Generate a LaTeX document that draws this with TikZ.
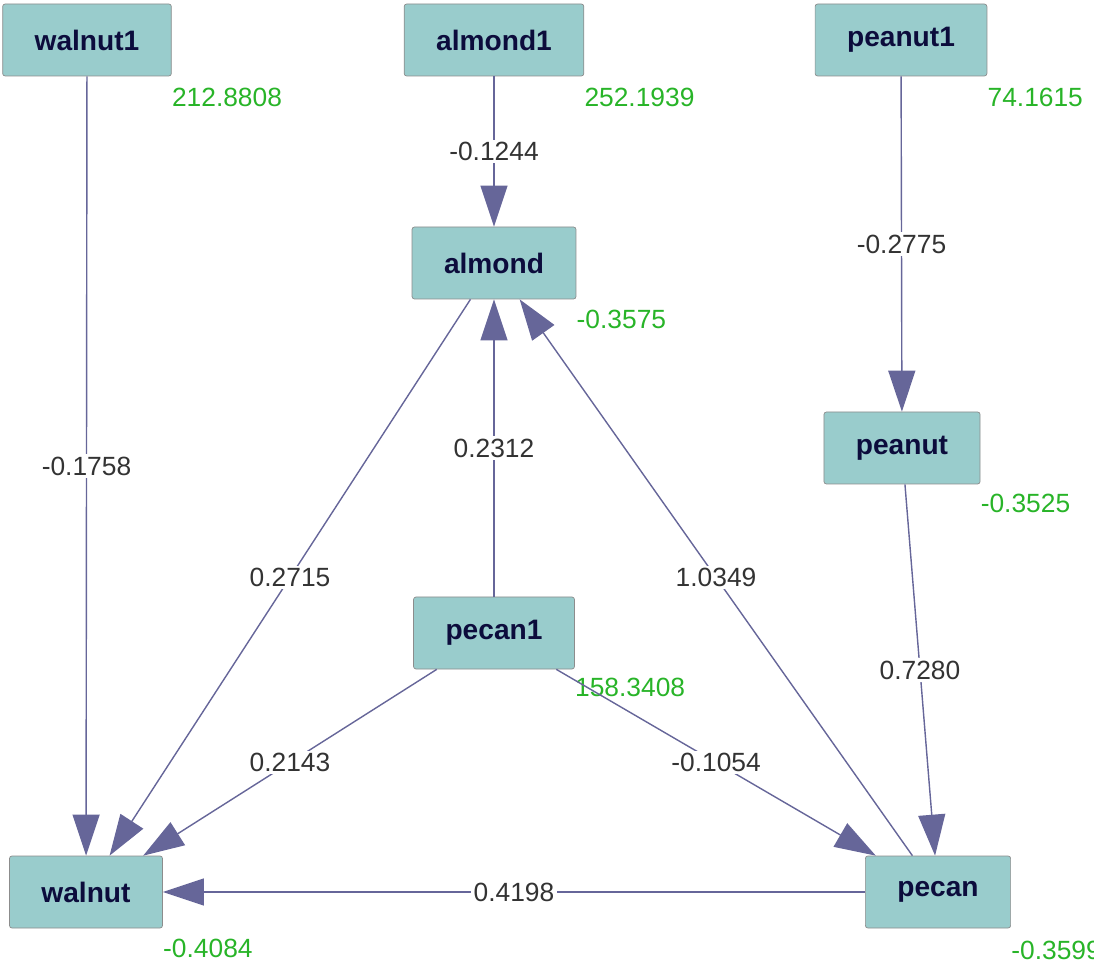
\documentclass[tikz,border=0pt]{standalone}
\usepackage{fontspec}
\setmainfont{Liberation Sans}
\usetikzlibrary{arrows.meta}

\definecolor{boxfill}{RGB}{153,204,204}
\definecolor{boxline}{RGB}{140,140,140}
\definecolor{boxtext}{RGB}{12,12,60}
\definecolor{edgecol}{RGB}{102,102,153}
\definecolor{estgreen}{RGB}{40,180,40}
\definecolor{wtgray}{RGB}{51,51,51}

\begin{document}
\begin{tikzpicture}[main/.style = {draw=boxline, fill=boxfill, rounded corners=0.5mm, inner xsep=0.64cm, minimum height=1.44cm, text=boxtext, font=\fontsize{16}{19}\selectfont\bfseries},
	edge/.style = {draw=edgecol, line width=0.8pt, -{Triangle[length=0.82cm, width=0.54cm]}},
	wt/.style = {fill=white, inner sep=1.5pt, text=wtgray, font=\fontsize{15}{18}\selectfont},
	est/.style = {anchor=west, inner sep=0pt, text=estgreen, font=\fontsize{15}{18}\selectfont}]
	\useasboundingbox (0,0) rectangle (21.88,-19.44);

	%% Nodes
	\node[main] (1) at (1.74,-0.80) {walnut1};
	\node[main] (2) at (9.88,-0.80) {almond1};
	\node[main] (3) at (18.02,-0.80) {peanut1};

	\node[main] (4) at (9.88,-5.26) {almond};
	\node[main] (5) at (18.04,-8.96) {peanut};

	\node[main] (6) at (9.88,-12.66) {pecan1};

	\node[main] (7) at (1.72,-17.84) {walnut};
	\node[main] (8) at (18.76,-17.84) {pecan};

	%% Values
	\node[est] (v1) at ([yshift=-0.42cm]1.south east) {212.8808};
	\node[est] (v2) at ([yshift=-0.42cm]2.south east) {252.1939};
	\node[est] (v3) at ([yshift=-0.42cm]3.south east) {74.1615};
	\node[est] (v4) at ([yshift=-0.40cm]4.south east) {-0.3575};
	\node[est] (v5) at ([yshift=-0.38cm]5.south east) {-0.3525};
	\node[est] (v6) at ([yshift=-0.36cm]6.south east) {158.3408};
	\node[est] (v7) at ([yshift=-0.40cm]7.south east) {-0.4084};
	\node[est] (v8) at ([yshift=-0.44cm]8.south east) {-0.3599};

	%% Edges
	\draw[edge] (1) -- node[wt] {-0.1758} (7);
	\draw[edge] (2) -- node[wt] {-0.1244} (4);
	\draw[edge] (3) -- node[wt] {-0.2775} (5);
	\draw[edge] (4) -- node[wt] {0.2715} (7);
	\draw[edge] (6) -- node[wt] {0.2312} (4);
	\draw[edge] (8) -- node[wt] {1.0349} (4);
	\draw[edge] (5) -- node[wt] {0.7280} (8);
	\draw[edge] (6) -- node[wt] {0.2143} (7);
	\draw[edge] (6) -- node[wt] {-0.1054} (8);
	\draw[edge] (8) -- node[wt] {0.4198} (7);

\end{tikzpicture}
\end{document}
